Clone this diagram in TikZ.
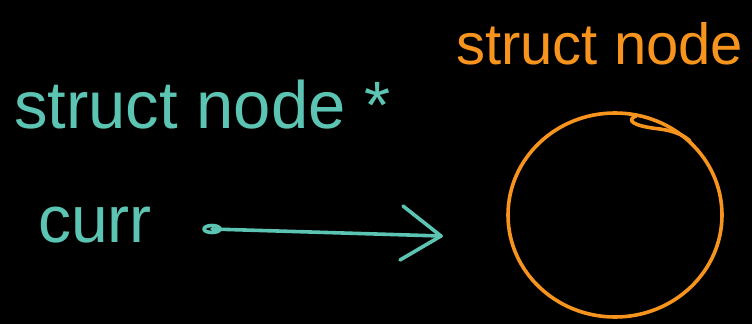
\documentclass[tikz,border=0pt]{standalone}
\usepackage{fontspec}
\setmainfont{Liberation Sans}
\usetikzlibrary{arrows.meta,shapes.geometric}
\definecolor{tealc}{HTML}{5CC4B2}
\definecolor{orng}{HTML}{F7941D}
\tikzset{
  hand/.style={line width=3.6pt, line cap=round, line join=round},
  lbl/.style={inner sep=0pt, anchor=base west},
}
\begin{document}
\begin{tikzpicture}[x=1pt,y=-1pt]
\useasboundingbox[fill=black] (0,0) rectangle (752,324);
\node[lbl, text=tealc, font=\fontsize{67}{67}\selectfont] (ptrtype) at (14,128) {struct node *};
\node[lbl, text=tealc, font=\fontsize{66}{66}\selectfont] (curr) at (38,242) {curr};
\node[lbl, text=orng, font=\fontsize{58}{58}\selectfont] (nodetype) at (456,64) {struct node};
\coordinate (tail) at (212,229);
\coordinate (tip) at (441,236);
\draw[hand, tealc] (tail) ellipse (8 and 3.5);
\draw[hand, tealc] (tail) -- (tip);
\draw[hand, tealc] (403,206) -- (tip) -- (400,260);
\node[draw=orng, hand, ellipse, minimum width=214, minimum height=204, inner sep=0pt] (obj) at (615,215) {};
\draw[hand, orng] (636,116) .. controls (626,120) and (632,126) .. (660,129) .. controls (675,131) and (685,136) .. (690,141);
\end{tikzpicture}
\end{document}
